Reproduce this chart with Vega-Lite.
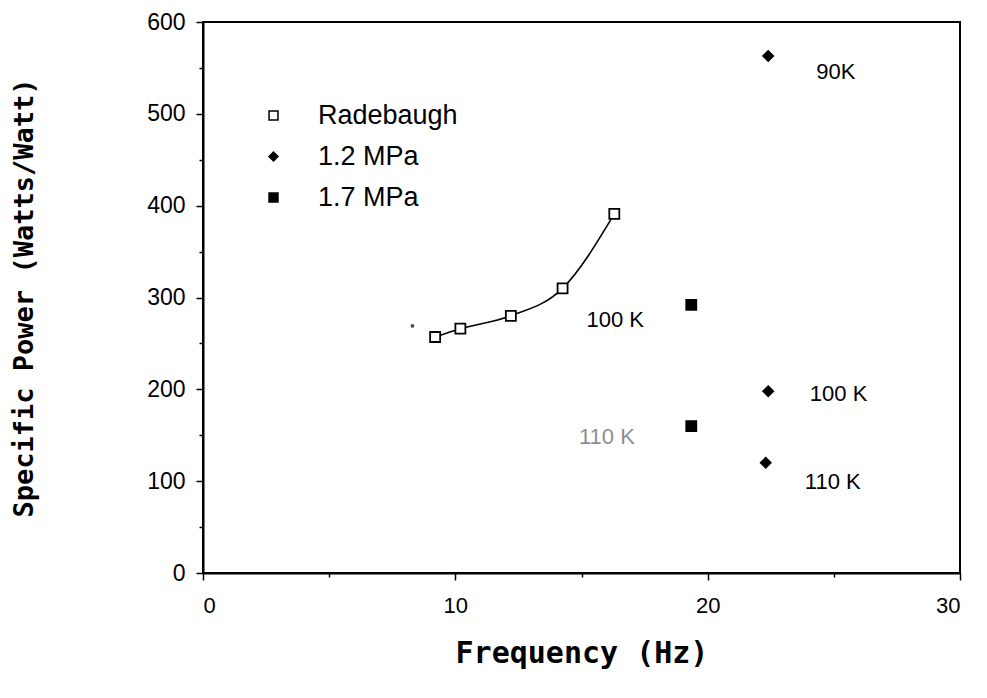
{
  "$schema": "https://vega.github.io/schema/vega-lite/v6.json",
  "autosize": "none",
  "width": 757,
  "height": 551,
  "padding": {"left": 203, "top": 22, "right": 27, "bottom": 125},
  "background": "white",
  "config": {
    "view": {"stroke": "black", "strokeWidth": 2},
    "font": "Liberation Sans"
  },
  "datasets": {
    "pts": [
      {"f": 9.2, "p": 257, "series": "Radebaugh"},
      {"f": 10.2, "p": 266, "series": "Radebaugh"},
      {"f": 12.2, "p": 280, "series": "Radebaugh"},
      {"f": 14.25, "p": 310, "series": "Radebaugh"},
      {"f": 16.3, "p": 391, "series": "Radebaugh"},
      {"f": 22.4, "p": 563, "series": "1.2 MPa"},
      {"f": 22.4, "p": 198, "series": "1.2 MPa"},
      {"f": 22.3, "p": 120, "series": "1.2 MPa"},
      {"f": 19.35, "p": 292, "series": "1.7 MPa"},
      {"f": 19.35, "p": 160, "series": "1.7 MPa"}
    ],
    "labels": [
      {"f": 15.2, "p": 275, "text": "100 K", "o": 1},
      {"f": 14.9, "p": 148, "text": "110 K", "o": 0.45},
      {"f": 24.3, "p": 546, "text": "90K", "o": 1},
      {"f": 24.05, "p": 195, "text": "100 K", "o": 1},
      {"f": 23.85, "p": 99, "text": "110 K", "o": 1}
    ],
    "stray": [{"f": 8.3, "p": 269}]
  },
  "encoding": {
    "x": {
      "field": "f", "type": "quantitative",
      "scale": {"domain": [0, 30], "nice": false, "zero": false},
      "axis": {
        "title": "Frequency (Hz)",
        "values": [0, 5, 10, 15, 20, 25, 30],
        "labelExpr": "datum.value % 10 === 0 ? datum.label : ''",
        "grid": false,
        "domainColor": "black", "domainWidth": 2,
        "tickColor": "black", "tickWidth": 1.5,
        "tickSize": {"condition": {"test": "datum.value % 10 === 0", "value": 7}, "value": 4},
        "labelFont": "Liberation Sans", "labelFontSize": 22, "labelColor": "black",
        "labelPadding": 15,
        "titleFont": "DejaVu Sans Mono", "titleFontSize": 30, "titleFontWeight": "bold",
        "titleColor": "black", "titlePadding": 22
      }
    },
    "y": {
      "field": "p", "type": "quantitative",
      "scale": {"domain": [0, 600], "nice": false},
      "axis": {
        "title": "Specific Power (Watts/Watt)",
        "values": [0, 50, 100, 150, 200, 250, 300, 350, 400, 450, 500, 550, 600],
        "labelExpr": "datum.value % 100 === 0 ? datum.label : ''",
        "grid": false,
        "domainColor": "black", "domainWidth": 2,
        "tickColor": "black", "tickWidth": 1.5,
        "tickSize": {"condition": {"test": "datum.value % 100 === 0", "value": 7}, "value": 4},
        "labelFont": "Liberation Sans", "labelFontSize": 23, "labelColor": "black",
        "labelPadding": 11,
        "titleFont": "DejaVu Sans Mono", "titleFontSize": 27, "titleFontWeight": "bold",
        "titleColor": "black", "titlePadding": 108
      }
    }
  },
  "layer": [
    {
      "data": {"name": "pts"},
      "transform": [{"filter": "datum.series === 'Radebaugh'"}],
      "mark": {"type": "line", "interpolate": "monotone", "color": "black", "strokeWidth": 1.6},
      "encoding": {}
    },
    {
      "data": {"name": "stray"},
      "mark": {"type": "point", "filled": true, "color": "black", "size": 14, "shape": "circle"},
      "encoding": {}
    },
    {
      "data": {"name": "pts"},
      "mark": {"type": "point", "filled": true, "stroke": "black", "strokeWidth": 1.8, "opacity": 1},
      "encoding": {
        "shape": {
          "field": "series", "type": "nominal",
          "scale": {"domain": ["Radebaugh", "1.2 MPa", "1.7 MPa"], "range": ["square", "diamond", "square"]},
          "legend": {
            "title": null, "orient": "none", "legendX": 57, "legendY": 80,
            "labelFont": "Liberation Sans", "labelFontSize": 27, "labelColor": "black",
            "labelOffset": 31, "rowPadding": 13, "symbolSize": 80,
            "encode": {"symbols": {"update": {"stroke": {"value": "black"}, "strokeWidth": {"value": 1.8}}}}
          }
        },
        "fill": {
          "field": "series", "type": "nominal",
          "scale": {"domain": ["Radebaugh", "1.2 MPa", "1.7 MPa"], "range": ["white", "black", "black"]},
          "legend": {
            "title": null, "orient": "none", "legendX": 57, "legendY": 80,
            "labelFont": "Liberation Sans", "labelFontSize": 27, "labelColor": "black",
            "labelOffset": 31, "rowPadding": 13, "symbolSize": 80,
            "encode": {"symbols": {"update": {"stroke": {"value": "black"}, "strokeWidth": {"value": 1.8}}}}
          }
        },
        "size": {"value": 100}
      }
    },
    {
      "data": {"name": "labels"},
      "mark": {"type": "text", "align": "left", "baseline": "middle", "font": "Liberation Sans", "fontSize": 22, "color": "black"},
      "encoding": {
        "text": {"field": "text"},
        "opacity": {"field": "o", "type": "quantitative", "scale": null}
      }
    }
  ]
}
